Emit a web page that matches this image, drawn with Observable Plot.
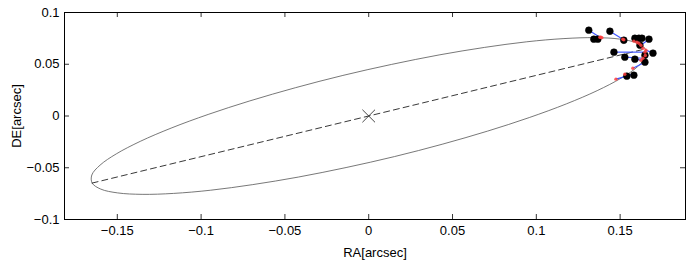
<!DOCTYPE html>
<html>
<head>
<meta charset="utf-8">
<script src="https://cdn.jsdelivr.net/npm/d3@7"></script>
<script src="https://cdn.jsdelivr.net/npm/@observablehq/plot@0.6"></script>
<style>
  html, body { margin: 0; padding: 0; background: #fff; }
  svg { display: block; }
</style>
</head>
<body>
<script>
// Tick values
const xTicks = [-0.15, -0.1, -0.05, 0, 0.05, 0.1, 0.15];
const yTicks = [-0.1, -0.05, 0, 0.05, 0.1];

// Orbit ellipse
const orbitRA = [0.1650, 0.1599, 0.1498, 0.1352, 0.1165, 0.0943, 0.0692, 0.0420, 0.0135, -0.0154,
  -0.0438, -0.0709, -0.0958, -0.1179, -0.1363, -0.1506, -0.1603, -0.1652, -0.1650, -0.1599,
  -0.1498, -0.1352, -0.1165, -0.0943, -0.0692, -0.0420, -0.0135, 0.0154, 0.0438, 0.0709,
  0.0958, 0.1179, 0.1363, 0.1506, 0.1603, 0.1652];
const orbitDE = [0.0648, 0.0706, 0.0743, 0.0757, 0.0748, 0.0717, 0.0663, 0.0590, 0.0498, 0.0392,
  0.0273, 0.0146, 0.0015, -0.0117, -0.0245, -0.0366, -0.0475, -0.0570, -0.0648, -0.0706,
  -0.0743, -0.0757, -0.0748, -0.0717, -0.0663, -0.0590, -0.0498, -0.0392, -0.0273, -0.0146,
  -0.0015, 0.0117, 0.0245, 0.0366, 0.0475, 0.0570];

// Line of apsides and central star
const apsRA = [-0.1650, 0.1650];
const apsDE = [-0.0648, 0.0648];
const starRA = [0];
const starDE = [0];

// Observed positions
const obsRA = [0.1313, 0.1343, 0.1367, 0.1439, 0.1522, 0.1588, 0.1612, 0.1630, 0.1672, 0.1618,
  0.1463, 0.1648, 0.1696, 0.1528, 0.1588, 0.1648, 0.1582, 0.1540];
const obsDE = [0.0829, 0.0742, 0.0742, 0.0819, 0.0732, 0.0751, 0.0751, 0.0751, 0.0742, 0.0684,
  0.0617, 0.0587, 0.0607, 0.0568, 0.0549, 0.0520, 0.0394, 0.0385];
// Model (predicted) positions on the orbit
const modRA = [0.1379, 0.1385, 0.1391, 0.1516, 0.1522, 0.1582, 0.1600, 0.1612, 0.1624, 0.1636,
  0.1648, 0.1650, 0.1654, 0.1636, 0.1624, 0.1576, 0.1528, 0.1475];
const modDE = [0.0761, 0.0761, 0.0757, 0.0742, 0.0737, 0.0723, 0.0713, 0.0703, 0.0684, 0.0655,
  0.0617, 0.0585, 0.0636, 0.0558, 0.0539, 0.0462, 0.0404, 0.0356];

const orbit = orbitRA.map((x, i) => ({x, y: orbitDE[i]}));
const aps = apsRA.map((x, i) => ({x, y: apsDE[i]}));
const star = starRA.map((x, i) => ({x, y: starDE[i]}));
const pairs = obsRA.map((x, i) => ({ox: x, oy: obsDE[i], mx: modRA[i], my: modDE[i]}));

const fmt = d => d === 0 ? "0" : String(d).replace("-", "\u2212");

const W = 691, H = 260, mL = 64, mR = 6, mT = 12, mB = 41;
const fw = W - mL - mR, fh = H - mT - mB, tk = 5;

const chart = Plot.plot({
  width: W, height: H,
  marginLeft: mL, marginRight: mR, marginTop: mT, marginBottom: mB,
  style: {fontFamily: "'Liberation Sans', Arial, sans-serif", fontSize: "13px", background: "#fff", color: "#000"},
  x: {domain: [-0.1815, 0.189]},
  y: {domain: [-0.1, 0.1]},
  marks: [
    Plot.line(orbit, {x: "x", y: "y", curve: "catmull-rom-closed", stroke: "#555", strokeWidth: 0.8}),
    Plot.line(aps, {x: "x", y: "y", stroke: "#222", strokeWidth: 0.9, strokeDasharray: "6,4"}),
    Plot.dot(star, {x: "x", y: "y", symbol: "times", r: 5.8, stroke: "#333", strokeWidth: 0.9}),
    Plot.link(pairs, {x1: "ox", y1: "oy", x2: "mx", y2: "my", stroke: "#3f55ff", strokeWidth: 1.2}),
    Plot.dot(pairs, {x: "ox", y: "oy", r: 3.4, fill: "#000", stroke: "#000", strokeWidth: 0.5}),
    Plot.dot(pairs, {x: "mx", y: "my", r: 1.7, fill: "#ff4040", fillOpacity: 0.85}),
    // inward ticks on all four sides
    Plot.tickX(xTicks, {x: d => d, insetTop: fh - tk, stroke: "#000", strokeWidth: 0.8}),
    Plot.tickX(xTicks, {x: d => d, insetBottom: fh - tk, stroke: "#000", strokeWidth: 0.8}),
    Plot.tickY(yTicks, {y: d => d, insetRight: fw - tk, stroke: "#000", strokeWidth: 0.8}),
    Plot.tickY(yTicks, {y: d => d, insetLeft: fw - tk, stroke: "#000", strokeWidth: 0.8}),
    Plot.axisX({ticks: xTicks, tickSize: 0, tickPadding: 6, tickFormat: fmt, label: "RA[arcsec]", labelAnchor: "center", labelArrow: "none", labelOffset: 37, fontSize: 13}),
    Plot.axisY({ticks: yTicks, tickSize: 0, tickPadding: 5, tickFormat: fmt, label: "DE[arcsec]", labelAnchor: "center", labelArrow: "none", labelOffset: 53, fontSize: 13}),
    Plot.frame({stroke: "#000", strokeWidth: 1})
  ]
});
document.body.appendChild(chart);
</script>
</body>
</html>
